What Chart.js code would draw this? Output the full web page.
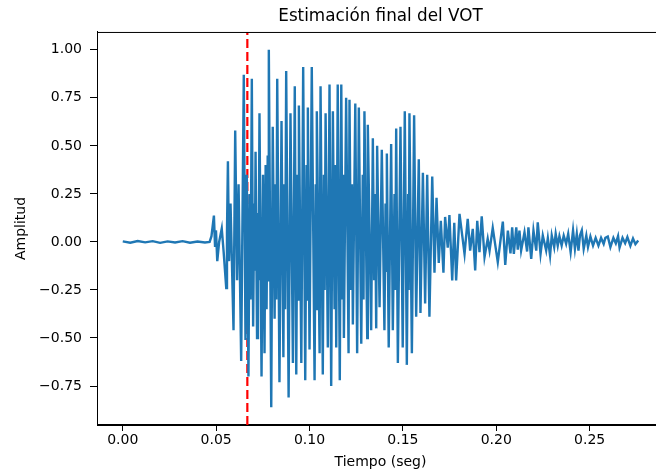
<!DOCTYPE html>
<html>
<head>
<meta charset="utf-8">
<script src="https://cdn.jsdelivr.net/npm/chart.js@4.4.0/dist/chart.umd.min.js"></script>
<style>
  html, body { margin: 0; padding: 0; background: #fff; overflow: hidden; }
  #wrap { position: relative; width: 680px; height: 471px; }
</style>
</head>
<body>
<div id="wrap"><canvas id="graph" width="680" height="471"></canvas></div>
<script>
// waveform (time in s, amplitude)
var tiempo = [
  // silence
  0.000, 0.004, 0.008, 0.012, 0.016, 0.020, 0.024, 0.028, 0.032, 0.036,
  0.040, 0.044,
  // burst / onset
  0.0465, 0.0475, 0.0488, 0.0494, 0.0499, 0.0506, 0.0516, 0.0530, 0.0540, 0.0554,
  0.0558, 0.0563, 0.0569, 0.0577,
  // voiced part
  0.0593, 0.0602, 0.0612, 0.0620, 0.0634, 0.0648, 0.0657, 0.0664, 0.0673, 0.0679,
  0.0684, 0.0691, 0.0698, 0.0704, 0.0707, 0.0711, 0.0719, 0.0724, 0.0727, 0.0732,
  0.0743, 0.0751, 0.0759, 0.0765, 0.0770, 0.0776, 0.0779, 0.0782, 0.0795, 0.0803,
  0.0813, 0.0818, 0.0822, 0.0827, 0.0839, 0.0850, 0.0860, 0.0865, 0.0869, 0.0875,
  0.0888, 0.0898, 0.0911, 0.0921, 0.0929, 0.0935, 0.0939, 0.0943, 0.0956, 0.0966,
  0.0977, 0.0984, 0.0987, 0.0991, 0.1000, 0.1012, 0.1027, 0.1033, 0.1036, 0.1039,
  0.1054, 0.1059, 0.1071, 0.1077, 0.1081, 0.1086, 0.1098, 0.1107, 0.1116, 0.1125,
  0.1134, 0.1138, 0.1143, 0.1151, 0.1162, 0.1170, 0.1177, 0.1180, 0.1184, 0.1196,
  0.1209, 0.1214, 0.1222, 0.1227, 0.1232, 0.1245, 0.1255, 0.1264, 0.1277, 0.1285,
  0.1289, 0.1294, 0.1309, 0.1312, 0.1330, 0.1339, 0.1346, 0.1351, 0.1357, 0.1362,
  0.1375, 0.1387, 0.1401, 0.1407, 0.1410, 0.1414, 0.1424, 0.1437, 0.1446, 0.1455,
  0.1459, 0.1464, 0.1473, 0.1487, 0.1499, 0.1510, 0.1521, 0.1528, 0.1531, 0.1535,
  0.1548, 0.1560, 0.1571, 0.1585, 0.1594, 0.1607, 0.1619, 0.1630, 0.1642, 0.1657,
  // decay
  0.1669, 0.1680, 0.1692, 0.1703, 0.1717, 0.1726, 0.1740, 0.1749, 0.1764, 0.1775,
  0.1785, 0.1803, 0.1830, 0.1847, 0.1860, 0.1874, 0.1887, 0.1898, 0.1910, 0.1922,
  0.1937, 0.1954, 0.1964, 0.1981, 0.2008, 0.2035, 0.2048, 0.2062, 0.2076, 0.2085,
  0.2094, 0.2107, 0.2115, 0.2124, 0.2133, 0.2151, 0.2165, 0.2172, 0.2187, 0.2199,
  0.2214, 0.2222, 0.2237, 0.2249, 0.2267, 0.2276,
  // tail
  0.2288, 0.2297, 0.2310, 0.2318, 0.2329, 0.2338, 0.2350, 0.2361, 0.2374, 0.2385,
  0.2398, 0.2411, 0.2421, 0.2431, 0.2440, 0.2448, 0.2458, 0.2468, 0.2482, 0.2491,
  0.2504, 0.2518, 0.2532, 0.2547, 0.2561, 0.2575, 0.2584, 0.2597, 0.2611, 0.2627,
  0.2640, 0.2652, 0.2660, 0.2676, 0.2690, 0.2702, 0.2718, 0.2732, 0.2745, 0.2760
];
var amplitud = [
  // silence
  0.003, -0.004, 0.005, -0.002, 0.004, -0.005, 0.003, -0.003, 0.004, -0.004,
  0.002, -0.003,
  // burst / onset
  0.0, 0.03, 0.137, -0.02, 0.06, -0.10, 0.0, 0.07, -0.05, -0.24,
  0.05, 0.42, -0.10, 0.20,
  // voiced part
  -0.46, 0.58, -0.20, 0.30, -0.62, 0.87, -0.51, 0.35, -0.70, 0.25,
  -0.30, 0.85, -0.44, 0.20, -0.15, 0.47, -0.50, 0.15, -0.20, 0.67,
  -0.70, 0.35, -0.58, 0.40, -0.35, 0.45, -0.20, 1.00, -0.86, 0.60,
  -0.40, 0.30, -0.30, 0.85, -0.73, 0.63, -0.60, 0.30, -0.35, 0.89,
  -0.81, 0.67, -0.63, 0.81, -0.69, 0.35, -0.30, 0.71, -0.63, 0.91,
  -0.72, 0.40, -0.30, 0.70, -0.56, 0.91, -0.72, 0.30, -0.35, 0.68,
  -0.58, 0.81, -0.69, 0.35, -0.25, 0.67, -0.55, 0.82, -0.75, 0.68,
  -0.35, 0.40, -0.55, 0.82, -0.72, 0.82, -0.30, 0.35, -0.50, 0.75,
  -0.58, 0.74, -0.25, 0.30, -0.43, 0.72, -0.58, 0.70, -0.53, 0.35,
  -0.30, 0.68, -0.50, 0.61, -0.46, 0.54, -0.20, 0.25, -0.45, 0.50,
  -0.34, 0.48, -0.46, 0.20, -0.15, 0.46, -0.55, 0.51, -0.46, 0.25,
  -0.25, 0.59, -0.63, 0.60, -0.55, 0.68, -0.64, 0.25, -0.25, 0.67,
  -0.58, 0.66, -0.39, 0.43, -0.37, 0.36, -0.32, 0.35, -0.39, 0.34,
  // decay
  -0.16, 0.23, -0.11, 0.11, -0.16, 0.13, -0.03, 0.14, -0.20, 0.10,
  -0.20, 0.146, -0.062, 0.12, -0.045, 0.068, -0.148, 0.11, -0.053, 0.133,
  -0.079, 0.016, -0.045, 0.073, -0.105, 0.106, -0.12, 0.059, -0.06, 0.076,
  -0.062, 0.076, -0.04, 0.059, -0.045, 0.05, -0.05, 0.076, -0.088, 0.059,
  -0.045, 0.102, -0.062, 0.033, -0.045, 0.02,
  // tail
  -0.07, 0.033, -0.027, 0.042, -0.02, 0.03, -0.019, 0.033, -0.01, 0.042,
  -0.053, 0.06, -0.036, 0.042, -0.045, 0.033, 0.06, -0.036, 0.033, -0.027,
  0.028, -0.019, 0.021, -0.019, 0.021, -0.01, 0.021, 0.028, -0.027, 0.021,
  -0.007, 0.03, -0.03, 0.021, -0.007, 0.025, -0.02, 0.018, -0.012, 0.007
];

// VOT estimate (red dashed line)
var vot = 0.0667;

// ticks
var xTicks = [0.00, 0.05, 0.10, 0.15, 0.20, 0.25];
var xTickLabels = ['0.00', '0.05', '0.10', '0.15', '0.20', '0.25'];
var yTicks = [-0.75, -0.50, -0.25, 0.00, 0.25, 0.50, 0.75, 1.00];
var yTickLabels = ['\u22120.75', '\u22120.50', '\u22120.25', '0.00', '0.25', '0.50', '0.75', '1.00'];

// axis limits with 5% margin like matplotlib
var tMin = Math.min(...tiempo), tMax = Math.max(...tiempo);
var aMin = Math.min(...amplitud), aMax = Math.max(...amplitud);
var xMin = tMin - 0.05 * (tMax - tMin), xMax = tMax + 0.05 * (tMax - tMin);
var yMin = aMin - 0.05 * (aMax - aMin), yMax = aMax + 0.05 * (aMax - aMin);

var puntos = tiempo.map((t, i) => ({x: t, y: amplitud[i]}));

// box around the plot area (matplotlib spines)
const frame = {
  id: 'frame',
  afterDraw(chart) {
    const a = chart.chartArea;
    const ctx = chart.ctx;
    ctx.save();
    ctx.strokeStyle = '#000';
    ctx.lineWidth = 1;
    ctx.strokeRect(a.left + 0.5, a.top + 0.5, a.right - a.left, a.bottom - a.top);
    ctx.restore();
  }
};

const font = {family: 'DejaVu Sans', size: 14};

const config = {
  type: 'scatter',
  data: {
    datasets: [{
      data: puntos,
      showLine: true,
      borderColor: '#1f77b4',
      borderWidth: 2.4,
      pointRadius: 0,
      tension: 0
    },
    {
      data: [{x: vot, y: yMin}, {x: vot, y: yMax}],
      showLine: true,
      borderColor: '#ff0000',
      borderWidth: 2.2,
      borderDash: [9, 4],
      pointRadius: 0
    }]
  },
  options: {
    responsive: false,
    animation: false,
    layout: {padding: {left: 0, right: 16, top: 0, bottom: 0}},
    plugins: {
      legend: {display: false},
      tooltip: {enabled: false},
      title: {
        display: true,
        text: 'Estimación final del VOT',
        fullSize: false,
        color: '#000',
        font: {family: 'DejaVu Sans', size: 16.8, weight: 'normal'},
        padding: {top: 6.9, bottom: 4.9}
      }
    },
    scales: {
      x: {
        type: 'linear',
        min: xMin,
        max: xMax,
        afterBuildTicks: s => { s.ticks = xTicks.map(v => ({value: v})); },
        afterFit: s => { s.height = 46; },
        ticks: {
          color: '#000', font: font, padding: 1, maxRotation: 0,
          callback: (v, i) => xTickLabels[i]
        },
        grid: {drawOnChartArea: false, drawTicks: true, tickLength: 6, color: '#000'},
        border: {display: true, color: '#000'},
        title: {display: true, text: 'Tiempo (seg)', color: '#000', font: font, padding: {top: 0, bottom: 0.6}}
      },
      y: {
        type: 'linear',
        min: yMin,
        max: yMax,
        afterBuildTicks: s => { s.ticks = yTicks.map(v => ({value: v})); },
        afterFit: s => { s.width = 97; },
        ticks: {
          color: '#000', font: font, padding: 8,
          callback: (v, i) => yTickLabels[i]
        },
        grid: {drawOnChartArea: false, drawTicks: true, tickLength: 7, color: '#000'},
        border: {display: true, color: '#000'},
        title: {display: true, text: 'Amplitud', color: '#000', font: font, padding: {top: 13.3, bottom: 0}}
      }
    }
  },
  plugins: [frame]
};

const chart = new Chart(document.getElementById('graph'), config);
</script>
</body>
</html>
